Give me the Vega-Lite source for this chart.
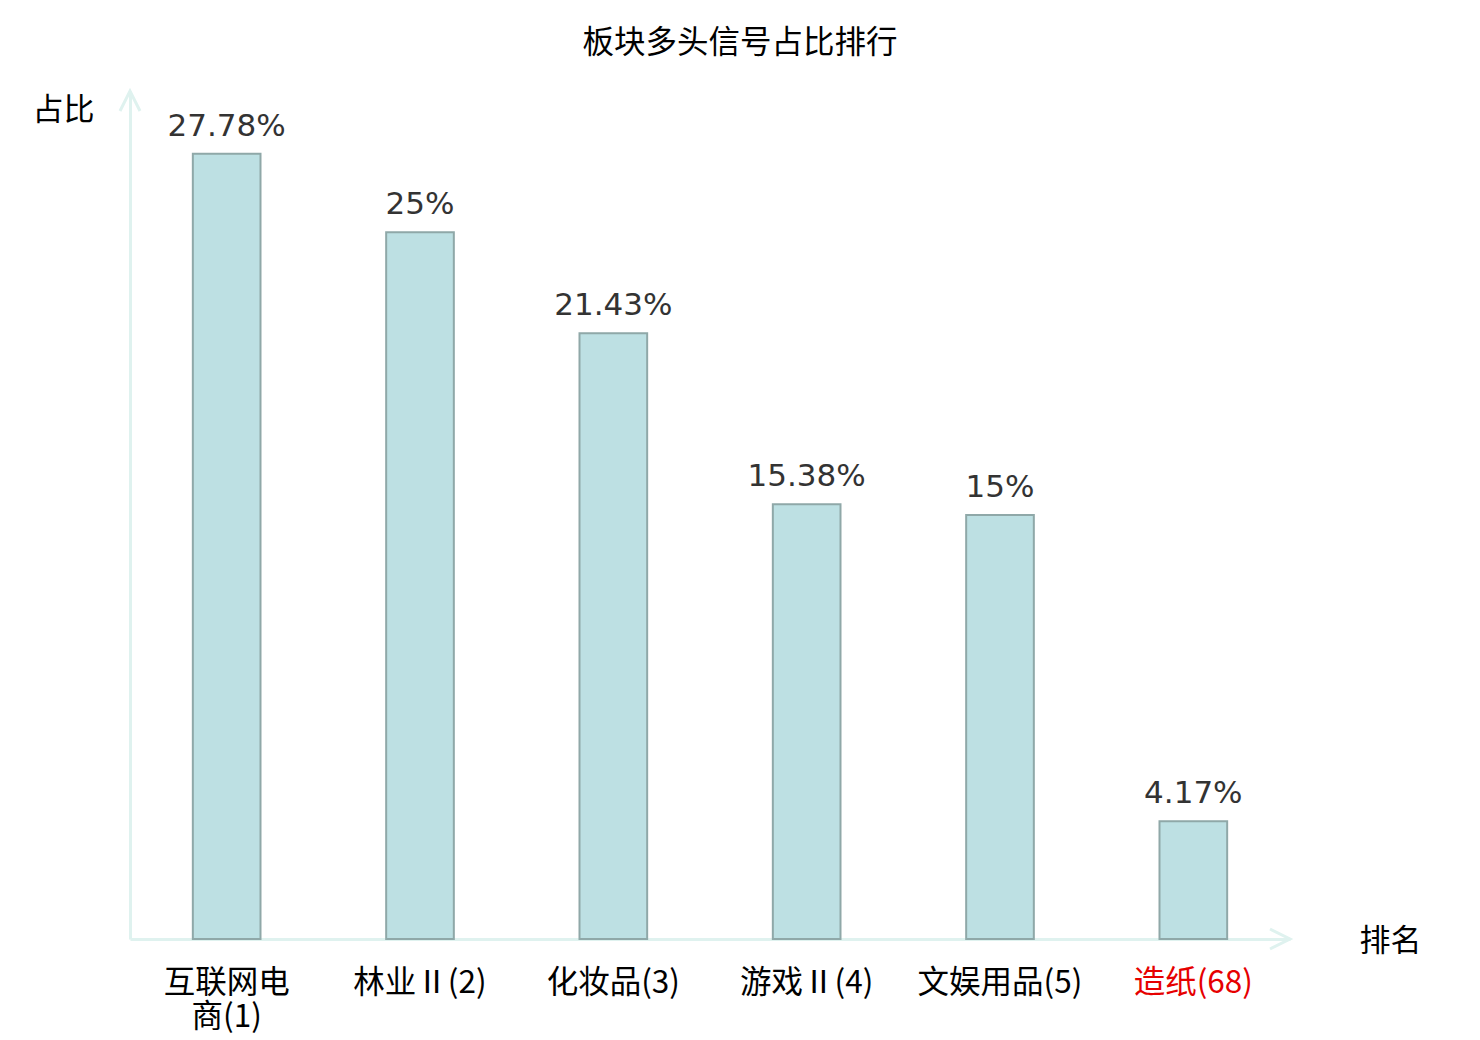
{
  "$schema": "https://vega.github.io/schema/vega-lite/v6.json",
  "width": 1160,
  "height": 848,
  "autosize": {"type": "none"},
  "padding": {"left": 130, "top": 91, "right": 190, "bottom": 101},
  "background": "white",
  "title": {
    "text": "板块多头信号占比排行",
    "font": "Noto Sans CJK SC",
    "fontSize": 31.5,
    "fontWeight": "normal",
    "color": "#000000",
    "anchor": "middle",
    "frame": "group",
    "baseline": "middle",
    "offset": 10,
    "dx": 30
  },
  "config": {
    "view": {"stroke": null}
  },
  "layer": [
    {
      "data": {
        "values": [
          {"板块": "互联网电商(1)", "占比": 0.2778},
          {"板块": "林业Ⅱ(2)", "占比": 0.25},
          {"板块": "化妆品(3)", "占比": 0.2143},
          {"板块": "游戏Ⅱ(4)", "占比": 0.1538},
          {"板块": "文娱用品(5)", "占比": 0.15},
          {"板块": "造纸(68)", "占比": 0.0417}
        ]
      },
      "encoding": {
        "x": {
          "field": "板块",
          "type": "nominal",
          "sort": null,
          "scale": {"paddingInner": 0.65, "paddingOuter": 0.325},
          "axis": {
            "title": "排名",
            "titleFont": "Noto Sans CJK SC",
            "titleFontSize": 31,
            "titleFontWeight": "normal",
            "titleColor": "#000000",
            "titleX": 1260,
            "titleY": 2,
            "titleAlign": "center",
            "titleBaseline": "middle",
            "domainColor": "#dff2ef",
            "domainWidth": 3,
            "ticks": false,
            "labelAngle": 0,
            "labelFont": "Noto Sans CJK SC",
            "labelFontSize": 31.5,
            "labelFontWeight": "normal",
            "labelLineHeight": 34,
            "labelPadding": 28,
            "labelBaseline": "top",
            "labelColor": {
              "condition": {"test": "datum.value == '造纸(68)'", "value": "#e60000"},
              "value": "#000000"
            },
            "labelExpr": "datum.value == '互联网电商(1)' ? ['互联网电', '商(1)'] : datum.value"
          }
        },
        "y": {
          "field": "占比",
          "type": "quantitative",
          "scale": {"domain": [0, 0.3]},
          "axis": {
            "title": "占比",
            "titleFont": "Noto Sans CJK SC",
            "titleFontSize": 31,
            "titleFontWeight": "normal",
            "titleColor": "#000000",
            "titleAngle": 0,
            "titleX": -67,
            "titleY": 19,
            "titleAlign": "center",
            "titleBaseline": "middle",
            "domainColor": "#dff2ef",
            "domainWidth": 3,
            "ticks": false,
            "labels": false,
            "grid": false
          }
        }
      },
      "layer": [
        {
          "mark": {
            "type": "bar",
            "fill": "#bde0e3",
            "stroke": "#8fa8a8",
            "strokeWidth": 2
          }
        },
        {
          "mark": {
            "type": "text",
            "font": "DejaVu Sans",
            "fontSize": 31,
            "color": "#333333",
            "baseline": "alphabetic",
            "dy": -18
          },
          "encoding": {
            "text": {"field": "占比", "type": "quantitative", "format": ".4~%"}
          }
        }
      ]
    },
    {
      "data": {"values": [{"end": 0.3}]},
      "mark": {
        "type": "point",
        "shape": "M-0.5,1L0,0L0.5,1",
        "size": 1600,
        "filled": false,
        "stroke": "#dff2ef",
        "strokeWidth": 3,
        "opacity": 1
      },
      "encoding": {
        "x": {"value": 0},
        "y": {"field": "end", "type": "quantitative"}
      }
    },
    {
      "data": {"values": [{"start": 0}]},
      "mark": {
        "type": "point",
        "shape": "M-1,-0.5L0,0L-1,0.5",
        "size": 1600,
        "filled": false,
        "stroke": "#dff2ef",
        "strokeWidth": 3,
        "opacity": 1
      },
      "encoding": {
        "x": {"value": "width"},
        "y": {"field": "start", "type": "quantitative"}
      }
    }
  ]
}
